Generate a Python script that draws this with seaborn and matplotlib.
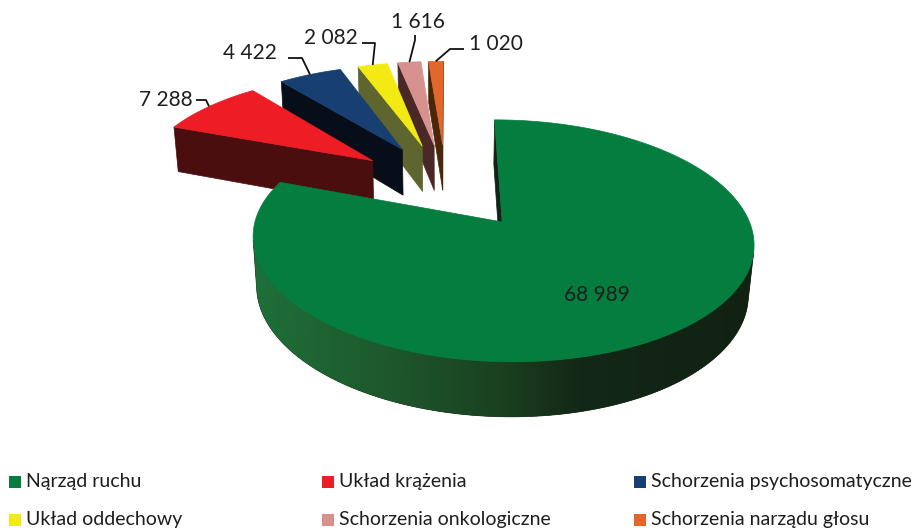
import numpy as np
import matplotlib
matplotlib.use("Agg")
import matplotlib.pyplot as plt
from matplotlib.patches import Polygon, Rectangle
from matplotlib.colors import LinearSegmentedColormap
import seaborn as sns

categories = ["Nąrząd ruchu", "Układ krążenia", "Schorzenia psychosomatyczne",
              "Układ oddechowy", "Schorzenia onkologiczne", "Schorzenia narządu głosu"]
values = [68989, 7288, 4422, 2082, 1616, 1020]
top_colors = ["#047d3e", "#ee1c25", "#173f71", "#f3ea14", "#d79290", "#e3672a"]
side_colors = ["#112314", "#4b0e0f", "#080e19", "#5f652e", "#4a2826", "#4b2709"]

sns.set_theme(style="white")
plt.rcParams["font.family"] = ["Lato", "DejaVu Sans"]

# fake 3D view (perspective camera looking down at the pie)
ELEV = np.radians(27)
DIST = 6.0
FOCAL = 1411
CX, CY = 446, 185
THICK = 0.23
EXPLODE = 0.4
S, C = np.sin(ELEV), np.cos(ELEV)
CAM = np.array([0.0, -DIST * C, DIST * S])

# side wall shading, light from the left
wall_cmap = LinearSegmentedColormap.from_list("wall", [
    (0.0, "#1e7038"), (0.3, "#1e552a"), (0.5, "#1a4020"),
    (0.65, "#132816"), (1.0, "#112213")])


def project(x, y, z):
    x, y, z = np.asarray(x, float), np.asarray(y, float), np.asarray(z, float)
    dep = DIST + y * C - z * S
    return np.column_stack([CX + FOCAL * x / dep, CY - FOCAL * (y * S + z * C) / dep])


def visible(normal, point):
    return np.dot(normal, CAM - point) > 0


fig = plt.figure(figsize=(9.13, 5.30), dpi=100)
ax = fig.add_axes([0, 0, 1, 1])
ax.set_xlim(0, 913)
ax.set_ylim(530, 0)
ax.axis("off")

total = sum(values)
cum = np.concatenate([[0], np.cumsum(values)]) / total
slices = []
for i in range(len(values)):
    a1 = np.radians(90 - 360 * cum[i + 1])
    a2 = np.radians(90 - 360 * cum[i])
    mid = (a1 + a2) / 2
    cen = EXPLODE * np.array([np.cos(mid), np.sin(mid)])
    slices.append((i, a1, a2, mid, cen))

# painter's order: farthest first
order = sorted(slices, key=lambda s: -s[4][1])
z = 1
for i, a1, a2, mid, cen in order:
    n = max(int(np.degrees(a2 - a1) * 2), 8)
    ts = np.linspace(a1, a2, n + 1)
    # radial faces
    for a, sgn in ((a1, -1), (a2, 1)):
        nrm = np.array([np.cos(a + sgn * np.pi / 2), np.sin(a + sgn * np.pi / 2), 0])
        p = np.array([cen[0] + 0.5 * np.cos(a), cen[1] + 0.5 * np.sin(a), -THICK / 2])
        if visible(nrm, p):
            xs = [cen[0], cen[0] + np.cos(a), cen[0] + np.cos(a), cen[0]]
            ys = [cen[1], cen[1] + np.sin(a), cen[1] + np.sin(a), cen[1]]
            ax.add_patch(Polygon(project(xs, ys, [0, 0, -THICK, -THICK]), closed=True,
                                 fc=side_colors[i], ec=side_colors[i], lw=0.5, zorder=z))
            z += 1
    # outer curved wall (visible part only)
    tm = (ts[:-1] + ts[1:]) / 2
    vis = [visible(np.array([np.cos(t), np.sin(t), 0]),
                   np.array([cen[0] + np.cos(t), cen[1] + np.sin(t), -THICK / 2])) for t in tm]
    if any(vis):
        idx = np.where(vis)[0]
        tv = np.concatenate([ts[idx], [ts[idx[-1] + 1]]])
        top = project(cen[0] + np.cos(tv), cen[1] + np.sin(tv), np.zeros_like(tv))
        bot = project(cen[0] + np.cos(tv), cen[1] + np.sin(tv), np.full_like(tv, -THICK))
        outline = np.vstack([top, bot[::-1]])
        wall = Polygon(outline, closed=True, fc=side_colors[i], ec=side_colors[i],
                       lw=0.5, zorder=z)
        ax.add_patch(wall)
        z += 1
        if i == 0:
            x0, x1 = outline[:, 0].min(), outline[:, 0].max()
            y0, y1 = outline[:, 1].min(), outline[:, 1].max()
            grad = np.linspace(0, 1, 256)[None, :]
            im = ax.imshow(grad, cmap=wall_cmap, extent=[x0, x1, y1, y0], aspect="auto",
                           interpolation="bilinear", zorder=z)
            im.set_clip_path(wall)
            z += 1
    # top face
    xs = np.concatenate([[cen[0]], cen[0] + np.cos(ts)])
    ys = np.concatenate([[cen[1]], cen[1] + np.sin(ts)])
    ax.add_patch(Polygon(project(xs, ys, np.zeros_like(xs)), closed=True,
                         fc=top_colors[i], ec=top_colors[i], lw=0.5, zorder=z))
    z += 1

ax.set_xlim(0, 913)
ax.set_ylim(530, 0)


def fmt(v):
    return f"{v:,}".replace(",", " ")


# data labels
label_font = 15
label_pos = {1: (166, 100), 2: (250, 53), 3: (331, 38), 4: (418, 22), 5: (496, 44)}
elbows = {1: [(196, 100), (206, 100)], 2: [(288, 58), (302, 58)], 3: [(362, 43), (375, 43)],
          4: [(415, 35), (415, 40)], 5: [(464, 49), (450, 49)]}
for i, a1, a2, mid, cen in slices:
    if i == 0:
        ax.text(597, 295, fmt(values[i]), ha="center", va="center",
                fontsize=label_font, color="#1e1e1e", zorder=z)
        continue
    anchor = project([cen[0] + np.cos(mid)], [cen[1] + np.sin(mid)], [0])[0]
    pts = np.array(elbows[i] + [tuple(anchor)])
    ax.plot(pts[:, 0], pts[:, 1], color="#111111", lw=1.3, solid_capstyle="butt", zorder=z)
    tx, ty = label_pos[i]
    ax.text(tx, ty, fmt(values[i]), ha="center", va="center",
            fontsize=label_font, color="#1e1e1e", zorder=z)

# legend (3 columns, 2 rows)
col_x = [9, 322, 634]
row_y = [482, 520]
for k, name in enumerate(categories):
    x = col_x[k % 3]
    y = row_y[k // 3]
    ax.add_patch(Rectangle((x, y - 6), 12, 12, fc=top_colors[k], ec="none", clip_on=False))
    ax.text(x + 17, y, name, ha="left", va="center", fontsize=14, color="#1e1e1e",
            clip_on=False)

fig.savefig("out.png", dpi=100)
